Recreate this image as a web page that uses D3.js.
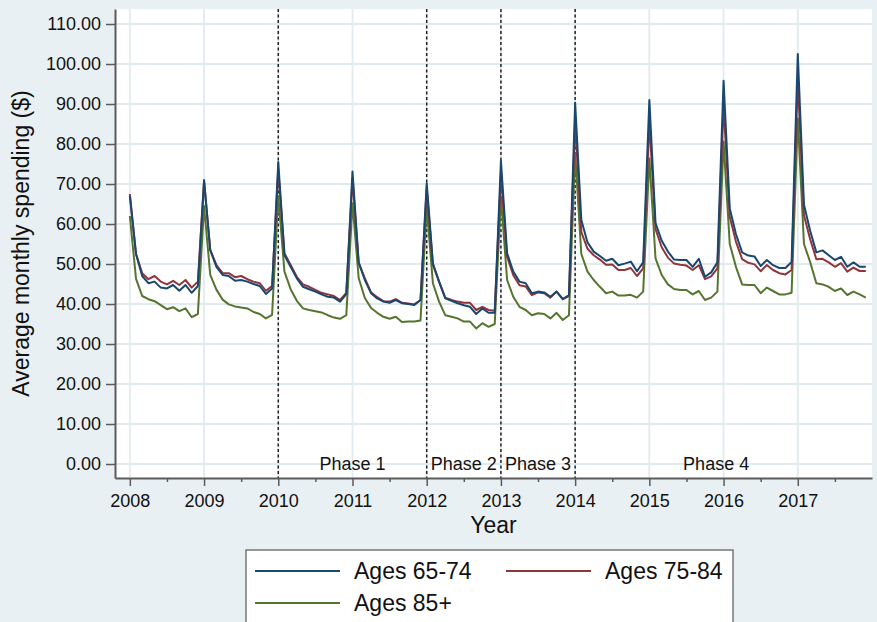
<!DOCTYPE html>
<html>
<head>
<meta charset="utf-8">
<script src="https://cdn.jsdelivr.net/npm/d3@7"></script>
<style>
  body { margin: 0; background: #e9f0f3; }
  svg { display: block; font-family: Arial, "Liberation Sans", sans-serif; }
</style>
</head>
<body>
<div id="chart"></div>
<script>
// monthly data, Jan 2008 .. Dec 2017
var startYear = 2008;
var seriesNames = ["Ages 65-74", "Ages 75-84", "Ages 85+"];
var color = ["#1a476f", "#90353b", "#55752f"];

var ages6574 = [
  67.0, 52.5, 47.0, 45.2, 45.6, 44.1, 43.9, 44.75, 43.3, 44.75, 42.8, 44.5,
  70.8, 53.5, 49.3, 47.25, 47.0, 45.8, 46.0, 45.6, 45.0, 44.5, 42.5, 43.9,
  75.5, 52.2, 49.3, 46.4, 44.3, 43.7, 43.1, 42.4, 41.8, 41.6, 40.6, 42.5,
  73.1, 50.4, 46.0, 42.7, 41.4, 40.6, 40.3, 41.0, 40.2, 40.0, 39.75, 41.0,
  70.2, 50.2, 45.6, 41.4, 40.8, 40.2, 39.7, 39.3, 37.5, 38.9, 37.8, 37.8,
  75.8, 52.7, 48.1, 45.6, 45.2, 42.7, 43.1, 42.9, 41.8, 43.1, 41.2, 42.2,
  90.3, 61.0, 55.4, 53.1, 52.0, 50.8, 51.3, 49.7, 50.1, 50.6, 48.2, 50.4,
  91.0, 60.2, 55.8, 53.1, 51.1, 51.0, 51.0, 49.3, 51.3, 46.8, 47.9, 50.4,
  95.8, 63.9, 57.5, 52.9, 52.1, 51.9, 49.5, 51.0, 49.7, 49.0, 49.0, 50.5,
  102.5, 64.8, 58.3, 52.9, 53.4, 52.2, 51.0, 51.8, 49.3, 50.4, 49.3, 49.3
];
var ages7584 = [
  67.5, 52.5, 47.7, 46.2, 47.0, 45.6, 44.9, 45.8, 44.75, 46.0, 44.1, 45.6,
  71.0, 53.5, 49.75, 47.7, 47.7, 46.7, 47.0, 46.2, 45.6, 45.2, 43.3, 44.5,
  73.5, 52.7, 49.75, 46.8, 44.9, 44.3, 43.5, 42.8, 42.4, 42.0, 41.0, 42.8,
  71.4, 50.3, 46.4, 42.9, 41.7, 40.7, 40.6, 41.2, 40.3, 40.1, 39.9, 41.0,
  68.9, 49.8, 45.6, 41.6, 41.0, 40.6, 40.3, 40.3, 38.5, 39.3, 38.5, 38.3,
  72.3, 51.8, 47.2, 44.7, 44.4, 42.2, 42.9, 42.7, 41.6, 43.1, 41.2, 42.0,
  85.6, 58.0, 53.8, 52.2, 51.1, 49.8, 49.9, 48.5, 48.5, 49.0, 47.0, 48.9,
  85.6, 58.7, 54.2, 51.6, 50.1, 49.8, 49.6, 48.5, 49.7, 46.2, 46.9, 48.9,
  89.75, 61.8, 55.6, 51.2, 50.3, 49.9, 48.2, 49.75, 48.5, 47.7, 47.4, 48.5,
  96.0, 62.2, 56.2, 51.2, 51.3, 50.4, 49.3, 50.2, 48.1, 49.1, 48.25, 48.25
];
var ages85 = [
  62.0, 46.3, 42.0, 41.2, 40.7, 39.7, 38.7, 39.2, 38.2, 38.9, 36.7, 37.5,
  64.5, 47.3, 43.6, 41.1, 39.9, 39.4, 39.1, 38.9, 38.0, 37.5, 36.4, 37.3,
  67.0, 48.1, 43.7, 40.8, 38.9, 38.5, 38.2, 37.9, 37.2, 36.6, 36.3, 37.2,
  65.2, 46.5, 41.5, 39.0, 37.8, 36.8, 36.3, 36.8, 35.5, 35.6, 35.6, 35.9,
  64.3, 45.2, 40.6, 37.2, 36.8, 36.4, 35.6, 35.6, 33.9, 35.2, 34.3, 35.0,
  66.8, 46.0, 41.8, 39.3, 38.5, 37.2, 37.7, 37.5, 36.4, 37.8, 36.0, 37.2,
  77.7, 52.5, 48.1, 46.0, 44.3, 42.7, 43.1, 42.1, 42.1, 42.3, 41.6, 43.1,
  76.4, 51.4, 47.25, 44.9, 43.75, 43.5, 43.5, 42.4, 43.25, 41.0, 41.6, 43.1,
  80.6, 55.0, 49.3, 44.9, 44.75, 44.75, 42.7, 44.1, 43.25, 42.4, 42.4, 42.8,
  86.4, 55.0, 50.5, 45.2, 44.9, 44.3, 43.25, 43.9, 42.25, 43.1, 42.4, 41.6
];

var yTicks = [0, 10, 20, 30, 40, 50, 60, 70, 80, 90, 100, 110];
var xTicks = [2008, 2009, 2010, 2011, 2012, 2013, 2014, 2015, 2016, 2017];
var phaseLines = [2010, 2012, 2013, 2014];
var phaseLabels = ["Phase 1", "Phase 2", "Phase 3", "Phase 4"];
var phaseLabelPos = [2011, 2012.5, 2013.5, 2015.9];

var width = 877, height = 622;
var plot = {left: 115, right: 872, top: 9, bottom: 478};

var svg = d3.select("#chart").append("svg")
  .attr("width", width)
  .attr("height", height);

var x = d3.scaleLinear().domain([2007.8, 2018]).range([plot.left, plot.right]);
var y = d3.scaleLinear().domain([-3.5, 113.75]).range([plot.bottom, plot.top]);

// plot region
svg.append("rect")
  .attr("x", plot.left).attr("y", plot.top)
  .attr("width", plot.right - plot.left)
  .attr("height", plot.bottom - plot.top)
  .attr("fill", "#fff");

// grid
svg.append("g").selectAll("line.h")
  .data(yTicks).enter().append("line")
    .attr("x1", plot.left).attr("x2", plot.right)
    .attr("y1", function(d) { return y(d); })
    .attr("y2", function(d) { return y(d); })
    .attr("stroke", "#e1ebef").attr("stroke-width", 1.8);
svg.append("g").selectAll("line.v")
  .data(xTicks).enter().append("line")
    .attr("x1", function(d) { return x(d); })
    .attr("x2", function(d) { return x(d); })
    .attr("y1", plot.top).attr("y2", plot.bottom)
    .attr("stroke", "#e1ebef").attr("stroke-width", 1.8);

// phase markers
svg.append("g").selectAll("line")
  .data(phaseLines).enter().append("line")
    .attr("x1", function(d) { return x(d); })
    .attr("x2", function(d) { return x(d); })
    .attr("y1", plot.top).attr("y2", plot.bottom)
    .attr("stroke", "#222").attr("stroke-width", 1.5)
    .attr("stroke-dasharray", "3,2.5");

svg.append("g").selectAll("text")
  .data(phaseLabels).enter().append("text")
    .attr("x", function(d, i) { return x(phaseLabelPos[i]); })
    .attr("y", y(0))
    .attr("text-anchor", "middle")
    .attr("dominant-baseline", "central")
    .style("font-size", "18px")
    .attr("fill", "#111")
    .text(function(d) { return d; });

// series
var allSeries = [ages6574, ages7584, ages85];
var line = d3.line()
  .x(function(d, i) { return x(startYear + i / 12); })
  .y(function(d) { return y(d); });

// draw green first, blue on top like the reference
[2, 1, 0].forEach(function(k) {
  svg.append("path")
    .datum(allSeries[k])
    .attr("d", line)
    .attr("fill", "none")
    .attr("stroke", color[k])
    .attr("stroke-width", 2)
    .attr("stroke-linejoin", "round");
});

// axes
svg.append("g")
  .attr("transform", "translate(" + plot.left + ",0)")
  .call(d3.axisLeft(y).tickValues(yTicks).tickFormat(d3.format(".2f"))
    .tickSize(9).tickSizeOuter(0).tickPadding(5));

svg.append("g")
  .attr("transform", "translate(0," + plot.bottom + ")")
  .call(d3.axisBottom(x).tickValues(xTicks).tickFormat(d3.format("d"))
    .tickSize(8).tickSizeOuter(0).tickPadding(8));

var halfYears = xTicks.map(function(d) { return d + 0.5; });
svg.append("g")
  .attr("transform", "translate(0," + plot.bottom + ")")
  .call(d3.axisBottom(x).tickValues(halfYears).tickFormat("")
    .tickSize(4).tickSizeOuter(0))
  .select(".domain").remove();

svg.selectAll(".domain").attr("stroke", "#5a5a5a").attr("stroke-width", 2);
svg.selectAll(".tick line").attr("stroke", "#5a5a5a").attr("stroke-width", 1.5);
svg.selectAll(".tick text").attr("fill", "#111").style("font-size", "18px")
  .style("font-family", "Arial, 'Liberation Sans', sans-serif");

// axis titles
svg.append("text")
  .attr("transform", "translate(29," + ((plot.top + plot.bottom) / 2) + ") rotate(-90)")
  .attr("text-anchor", "middle")
  .style("font-size", "23px")
  .attr("fill", "#111")
  .text("Average monthly spending ($)");

svg.append("text")
  .attr("x", (plot.left + plot.right) / 2)
  .attr("y", 533)
  .attr("text-anchor", "middle")
  .style("font-size", "23px")
  .attr("fill", "#111")
  .text("Year");

// legend
var legend = svg.append("g");
legend.append("rect")
  .attr("x", 246).attr("y", 550)
  .attr("width", 487).attr("height", 100)
  .attr("fill", "#fff")
  .attr("stroke", "#777").attr("stroke-width", 1.5);

var legendPos = [[255, 571], [506, 571], [255, 603]];
for (var i = 0; i < 3; i++) {
  legend.append("line")
    .attr("x1", legendPos[i][0]).attr("x2", legendPos[i][0] + 85)
    .attr("y1", legendPos[i][1]).attr("y2", legendPos[i][1])
    .attr("stroke", color[i]).attr("stroke-width", 2);
  legend.append("text")
    .attr("x", legendPos[i][0] + 99)
    .attr("y", legendPos[i][1])
    .attr("dominant-baseline", "central")
    .style("font-size", "23px")
    .attr("fill", "#111")
    .text(seriesNames[i]);
}
</script>
</body>
</html>
